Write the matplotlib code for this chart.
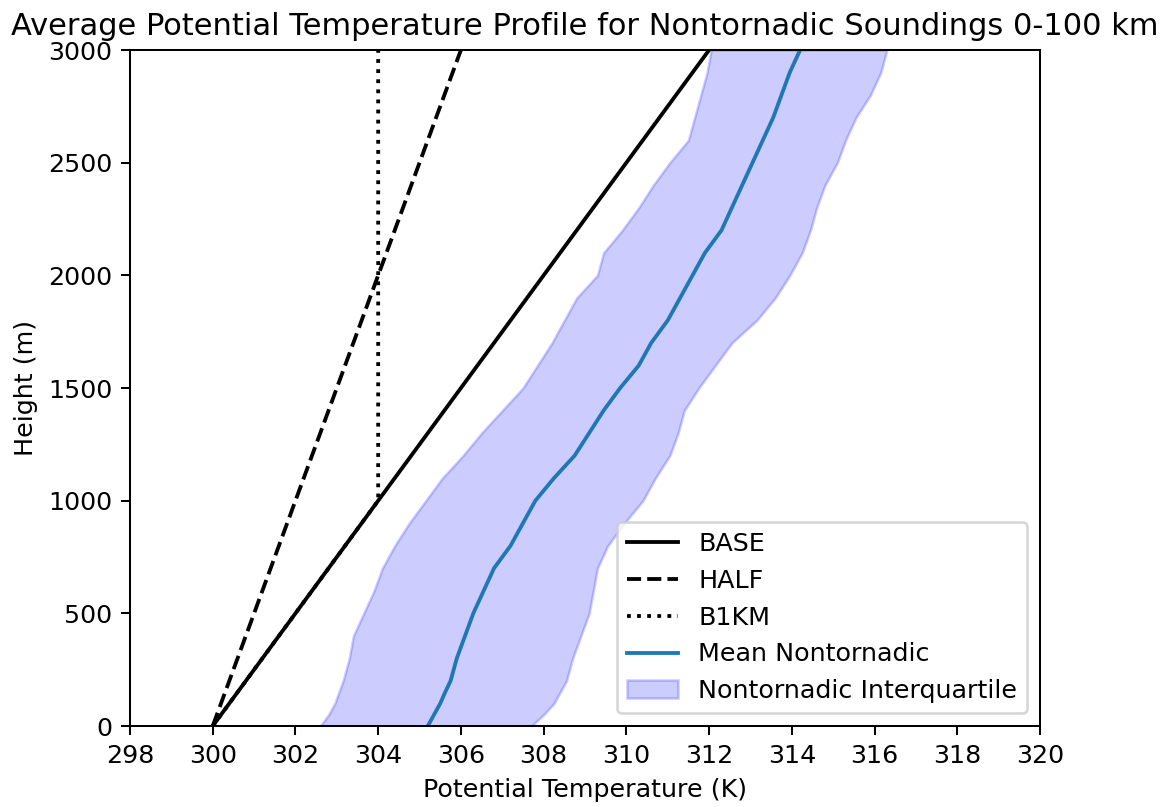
import matplotlib
matplotlib.use("Agg")
import matplotlib.pyplot as plt
import numpy as np

# Heights (m)
heights = [0, 50, 100, 150, 200, 300, 400, 500, 600, 700, 800, 900, 1000,
           1100, 1200, 1300, 1400, 1500, 1600, 1700, 1800, 1900, 2000,
           2100, 2200, 2300, 2400, 2500, 2600, 2700, 2800, 2900, 3000]

# Mean nontornadic potential temperature (K)
mean_theta = [305.2, 305.35, 305.5, 305.62, 305.75, 305.9, 306.1, 306.3, 306.55, 306.8, 307.2, 307.5, 307.8,
              308.25, 308.75, 309.1, 309.45, 309.85, 310.3, 310.6, 311.0, 311.3, 311.6,
              311.9, 312.3, 312.55, 312.8, 313.05, 313.3, 313.55, 313.75, 313.95, 314.2]

# Interquartile bounds (K)
q25_theta = [302.6, 302.8, 302.95, 303.05, 303.15, 303.3, 303.4, 303.65, 303.9, 304.1, 304.4, 304.75, 305.15,
             305.55, 306.05, 306.5, 307.0, 307.5, 307.85, 308.2, 308.5, 308.8, 309.3,
             309.45, 309.9, 310.3, 310.65, 311.05, 311.5, 311.65, 311.8, 311.95, 312.05]
q75_theta = [307.7, 308.0, 308.25, 308.4, 308.55, 308.7, 308.9, 309.1, 309.2, 309.3, 309.55, 309.95, 310.4,
             310.7, 311.05, 311.25, 311.4, 311.75, 312.15, 312.55, 313.15, 313.6, 313.95,
             314.25, 314.45, 314.6, 314.8, 315.1, 315.3, 315.55, 315.9, 316.15, 316.3]

# Idealized profiles
base_h = [0, 3000]
base_theta = [300, 312]
half_h = [0, 3000]
half_theta = [300, 306]
b1km_h = [0, 1000, 3000]
b1km_theta = [300, 304, 304]

DPI = 183
fig = plt.figure(figsize=(1169 / DPI, 807 / DPI), dpi=DPI)
ax = fig.add_axes([130 / 1169, 81 / 807, 910 / 1169, 676 / 807])

ax.plot(base_theta, base_h, color="black", linestyle="-", label="BASE")
ax.plot(half_theta, half_h, color="black", linestyle="--", label="HALF")
ax.plot(b1km_theta, b1km_h, color="black", linestyle=":", label="B1KM")
ax.plot(mean_theta, heights, color="#1f77b4", label="Mean Nontornadic")
ax.fill_betweenx(heights, q25_theta, q75_theta, color="blue", alpha=0.2,
                 label="Nontornadic Interquartile")

ax.set_xlim(298, 320)
ax.set_ylim(0, 3000)
ax.set_xticks(np.arange(298, 321, 2))
ax.set_xlabel("Potential Temperature (K)")
ax.set_ylabel("Height (m)")
ax.set_title("Average Potential Temperature Profile for Nontornadic Soundings 0-100 km")
ax.legend(loc="lower right")

fig.savefig("out.png", dpi=DPI)
